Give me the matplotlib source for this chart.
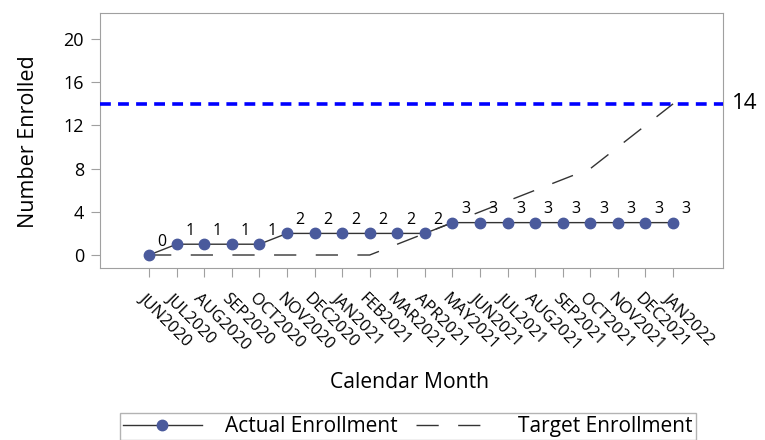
import matplotlib
matplotlib.use('Agg')
import matplotlib.pyplot as plt
from matplotlib.lines import Line2D
from matplotlib.transforms import ScaledTranslation

plt.rcParams['font.family'] = ['Open Sans', 'DejaVu Sans']

months = ['JUN2020', 'JUL2020', 'AUG2020', 'SEP2020', 'OCT2020', 'NOV2020',
          'DEC2020', 'JAN2021', 'FEB2021', 'MAR2021', 'APR2021', 'MAY2021',
          'JUN2021', 'JUL2021', 'AUG2021', 'SEP2021', 'OCT2021', 'NOV2021',
          'DEC2021', 'JAN2022']
actual = [0, 1, 1, 1, 1, 2, 2, 2, 2, 2, 2, 3, 3, 3, 3, 3, 3, 3, 3, 3]
target = [0, 0, 0, 0, 0, 0, 0, 0, 0, 1, 2, 3, 4, 5, 6, 7, 8, 10, 12, 14]
goal = 14

marker_col = '#4a5a9c'
frame_col = '#a0a0a0'

fig = plt.figure(figsize=(7.65, 4.4), dpi=100)
ax = fig.add_axes([0.1307, 0.391, 0.814, 0.579])

x = list(range(len(months)))

ax.plot(x, target, color='#333333', lw=1, dashes=(16, 14), zorder=2)
ax.plot(x, actual, color='#333333', lw=1, marker='o', ms=7.5,
        mfc=marker_col, mec=marker_col, zorder=3)
ax.axhline(goal, color='#0000ff', lw=2.6, linestyle=(0, (3, 2)), zorder=4)

for xi, v in zip(x, actual):
    ax.annotate(str(v), (xi, v), xytext=(9.5, 9.5), textcoords='offset points',
                ha='center', va='center', fontsize=11.5)

ax.text(1.015, (goal + 1.2) / 23.6, str(goal), transform=ax.transAxes,
        ha='left', va='center', fontsize=16)

ax.set_xlim(-1.78, 20.8)
ax.set_ylim(-1.2, 22.4)
ax.set_yticks(range(0, 21, 4))
ax.set_xticks(x)
ax.set_xticklabels([])

# rotated month labels, placed by hand so they sit a bit left of each tick
lab_tr = ax.get_xaxis_transform() + ScaledTranslation(-0.08, -0.28, fig.dpi_scale_trans)
for xi, m in zip(x, months):
    ax.text(xi, 0, m, transform=lab_tr, rotation=-45, rotation_mode='anchor',
            ha='left', va='center', fontsize=12)

ax.tick_params(axis='y', labelsize=13, color=frame_col, length=6.5, pad=5)
ax.tick_params(axis='x', color=frame_col, length=6.5)
for s in ax.spines.values():
    s.set_color(frame_col)

ax.set_ylabel('Number Enrolled', fontsize=15.5, va='center')
ax.yaxis.set_label_coords(-0.115, 0.494)
ax.set_xlabel('Calendar Month', fontsize=15.2, va='center')
ax.xaxis.set_label_coords(0.497, -0.451)

handles = [Line2D([], [], color='#333333', lw=1, marker='o', ms=7.5,
                  mfc=marker_col, mec=marker_col),
           Line2D([], [], color='#333333', lw=1, dashes=(16, 14))]
fig.legend(handles, ['Actual Enrollment', 'Target Enrollment'],
           loc='upper center', bbox_to_anchor=(0.533, 0.0614), ncol=2,
           fontsize=15, frameon=True, fancybox=False, edgecolor=frame_col,
           handlelength=3.8, handletextpad=1.1, columnspacing=0.9,
           borderpad=0.15, borderaxespad=0)

plt.savefig('out.png', dpi=100)
